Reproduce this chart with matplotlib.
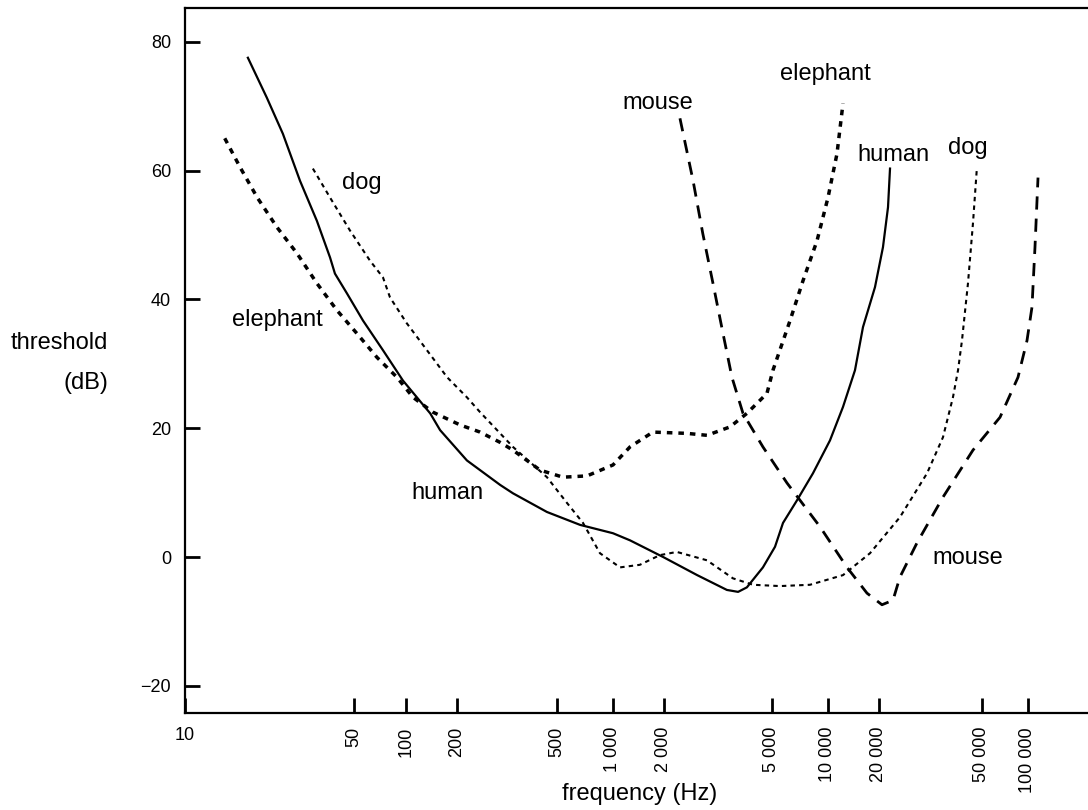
import numpy as np
import matplotlib
matplotlib.use('Agg')
import matplotlib.pyplot as plt

plt.rcParams['font.family'] = ['Liberation Sans', 'DejaVu Sans']
plt.rcParams['lines.scale_dashes'] = False

# Hearing threshold curves (frequency in Hz, threshold in dB)
human_freq = [18.2, 21.8, 25.4, 29.9, 35.1, 39.8, 41.7, 46.8, 56.4, 73.6, 96, 139, 159,
              219, 297, 334, 456, 665, 1000, 1260, 1980, 2650, 3410, 3750, 4040, 4630,
              5190, 5730, 6810, 8300, 10270, 12260, 14430, 16090, 18940, 20720, 21670, 22060]
human_db = [77.5, 71.3, 65.7, 58.4, 52.2, 46.5, 44.0, 40.9, 36.7, 32.1, 27.4, 22.3, 19.7,
            15.0, 11.2, 9.9, 7.0, 5.0, 3.7, 2.6, 0.0, -2.8, -5.1, -5.4, -4.7, -1.6,
            1.6, 5.3, 8.8, 13.0, 18.1, 23.3, 29.0, 35.7, 41.9, 48.1, 54.3, 60.3]

elephant_freq = [14.6, 16.9, 19.9, 24.0, 29.1, 35.1, 42.5, 52.0, 67.9, 88.7, 110, 144,
                 206, 247, 297, 334, 428, 538, 725, 1000, 1260, 1720, 2430, 2880, 3500,
                 4040, 4790, 5060, 6250, 7340, 8730, 10000, 11300, 12260]
elephant_db = [65.0, 60.5, 55.8, 51.2, 47.1, 42.5, 38.3, 34.7, 31.0, 27.9, 24.8, 22.5,
               20.5, 19.4, 17.8, 16.6, 13.5, 12.4, 12.6, 14.3, 17.1, 19.4, 19.2, 18.9, 20.2,
               22.3, 25.4, 29.0, 36.7, 42.9, 49.1, 55.8, 62.6, 70.4]

dog_freq = [33.8, 39.8, 48.1, 61.9, 73.6, 80.8, 101, 133, 175, 219, 247, 297, 334, 456,
            566, 690, 851, 1100, 1440, 1890, 2230, 2880, 3590, 4260, 5520, 8000, 12260,
            17700, 24100, 30660, 35340, 38620, 40400, 41840, 44140, 46140, 47800]
dog_db = [60.3, 55.8, 50.7, 46.0, 43.4, 40.3, 36.3, 32.1, 27.9, 24.8, 22.5, 19.2, 17.1, 12.4,
          8.4, 5.3, 0.6, -1.6, -1.2, 0.3, 0.8, -0.5, -3.3, -4.3, -4.5, -4.3, -2.8,
          0.6, 6.2, 13.0, 18.6, 24.8, 29.0, 33.6, 42.5, 51.8, 60.5]

mouse_freq = [2290, 2560, 2780, 3030, 3300, 3560, 3910, 4630, 6020, 9060, 12950, 16990,
              20540, 22650, 24100, 28040, 35340, 46140, 65600, 86000, 98500, 106200,
              111100, 116300]
mouse_db = [68.1, 58.4, 50.2, 42.5, 34.7, 27.9, 22.3, 17.1, 11.5, 4.7, -1.6, -5.6,
            -7.4, -6.7, -3.1, 2.2, 9.3, 16.6, 21.7, 27.9, 33.6, 38.8, 48.1, 58.9]

# curve names written next to the curves: (text, frequency, dB)
curve_labels = [('dog', 44.6, 57.1), ('elephant', 15.6, 35.8), ('human', 108, 9.0),
                ('mouse', 1130, 69.6), ('elephant', 5520, 74.1), ('human', 14830, 61.4),
                ('dog', 36960, 62.6), ('mouse', 32040, -1.1)]

tick_freqs = [10, 50, 100, 200, 500, 1000, 2000, 5000, 10000, 20000, 50000, 100000]
tick_labels = ['10', '50', '100', '200', '500', '1 000', '2 000', '5 000', '10 000',
               '20 000', '50 000', '100 000']
y_ticks = [-20, 0, 20, 40, 60, 80]

# the original frequency axis is hand-spaced, not a true log axis:
# where each tick sits along it (axis units)
tick_pos = [185, 354, 406, 457, 557, 613, 664, 772, 828, 879, 982, 1028]
x_max = 2.47e5


def warp(v, xs, ys):
    v = np.asarray(v, dtype=float)
    out = np.interp(v, xs, ys)
    lo_slope = (ys[1] - ys[0]) / (xs[1] - xs[0])
    hi_slope = (ys[-1] - ys[-2]) / (xs[-1] - xs[-2])
    out = np.where(v < xs[0], ys[0] + (v - xs[0]) * lo_slope, out)
    out = np.where(v > xs[-1], ys[-1] + (v - xs[-1]) * hi_slope, out)
    return out


log_ticks = np.log10(tick_freqs)
pos_ticks = np.array(tick_pos, dtype=float)


def forward(f):
    f = np.clip(np.asarray(f, dtype=float), 1e-3, None)
    return warp(np.log10(f), log_ticks, pos_ticks)


def inverse(p):
    return 10 ** warp(p, pos_ticks, log_ticks)


fig = plt.figure(figsize=(10.88, 8.10), dpi=100)
ax = fig.add_axes([185 / 1088, 97 / 810, 903 / 1088, 705.5 / 810])
ax.set_xscale('function', functions=(forward, inverse))
ax.set_xlim(10, x_max)
ax.set_ylim(-24.2, 85.3)

ax.plot(human_freq, human_db, color='black', lw=1.6, solid_joinstyle='round')
ax.plot(elephant_freq, elephant_db, color='black', lw=2.5, dashes=(4, 4.3))
ax.plot(dog_freq, dog_db, color='black', lw=1.5, dashes=(3.2, 3))
ax.plot(mouse_freq, mouse_db, color='black', lw=2.0, dashes=(9.5, 6.5))

for name, f, db in curve_labels:
    ax.text(f, db, name, fontsize=17, va='baseline', ha='left')

ax.set_xticks(tick_freqs, tick_labels, rotation=90)
ax.minorticks_off()
ax.set_yticks(y_ticks)
ax.tick_params(axis='both', direction='in', length=11, width=2, labelsize=13, pad=10)
ax.get_xticklabels()[0].set_rotation(0)

for side in ['left', 'bottom', 'top']:
    ax.spines[side].set_linewidth(1.6)
ax.spines['right'].set_visible(False)

fig.text(108 / 1088, 1 - 343 / 810, 'threshold', ha='right', va='center', fontsize=17)
fig.text(108 / 1088, 1 - 383 / 810, '(dB)', ha='right', va='center', fontsize=17)
fig.text(640 / 1088, 1 - 794 / 810, 'frequency (Hz)', ha='center', va='center', fontsize=17)

fig.savefig('out.png', dpi=100)
